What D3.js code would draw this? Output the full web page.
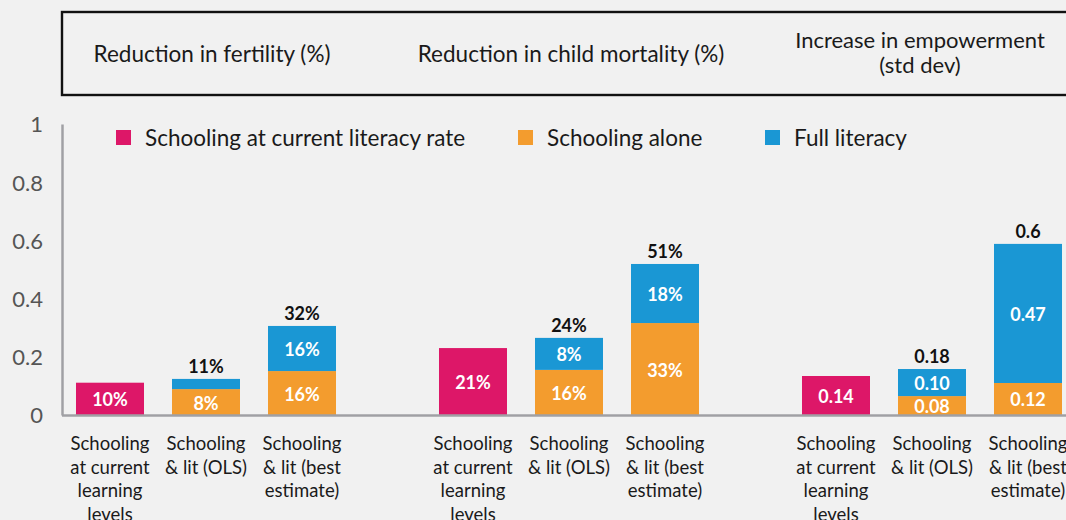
<!DOCTYPE html>
<html>
<head>
<meta charset="utf-8">
<script src="https://cdn.jsdelivr.net/npm/d3@7"></script>
<style>
  html, body { margin: 0; padding: 0; background: #f1f1f1; }
  svg { display: block; }
</style>
</head>
<body>
<svg id="chart" width="1066" height="520"></svg>
<script>
// ---- data ----
const groups = ["fertility", "mortality", "empowerment"];
const groupTitles = [
  ["Reduction in fertility (%)"],
  ["Reduction in child mortality (%)"],
  ["Increase in empowerment", "(std dev)"]
];
const categories = ["current", "ols", "best"];
const categoryLabels = [
  ["Schooling", "at current", "learning", "levels"],
  ["Schooling", "& lit (OLS)"],
  ["Schooling", "& lit (best", "estimate)"]
];
const seriesNames = ["Schooling at current literacy rate", "Schooling alone", "Full literacy"];
const seriesColors = ["#dd1768", "#f39c2e", "#1a97d4"];

// bar heights (per group: fertility, mortality, empowerment)
const currentLiteracy = [0.111, 0.230, 0.134];
const currentLiteracyLabels = ["10%", "21%", "0.14"];

const schoolingAloneOLS = [0.089, 0.155, 0.065];
const schoolingAloneOLSLabels = ["8%", "16%", "0.08"];
const fullLiteracyOLS = [0.035, 0.110, 0.093];
const fullLiteracyOLSLabels = ["", "8%", "0.10"];
const totalOLSLabels = ["11%", "24%", "0.18"];

const schoolingAloneBest = [0.151, 0.316, 0.110];
const schoolingAloneBestLabels = ["16%", "33%", "0.12"];
const fullLiteracyBest = [0.155, 0.203, 0.478];
const fullLiteracyBestLabels = ["16%", "18%", "0.47"];
const totalBestLabels = ["32%", "51%", "0.6"];

const yTicks = [0, 0.2, 0.4, 0.6, 0.8, 1];

// ---- build bar records ----
const bars = [];
groups.forEach((g, i) => {
  bars.push({ group: g, cat: "current", segs: [
    { s: 0, v: currentLiteracy[i], label: currentLiteracyLabels[i] }], total: "" });
  bars.push({ group: g, cat: "ols", segs: [
    { s: 1, v: schoolingAloneOLS[i], label: schoolingAloneOLSLabels[i] },
    { s: 2, v: fullLiteracyOLS[i], label: fullLiteracyOLSLabels[i] }], total: totalOLSLabels[i] });
  bars.push({ group: g, cat: "best", segs: [
    { s: 1, v: schoolingAloneBest[i], label: schoolingAloneBestLabels[i] },
    { s: 2, v: fullLiteracyBest[i], label: fullLiteracyBestLabels[i] }], total: totalBestLabels[i] });
});
bars.forEach(b => {
  let acc = 0;
  b.segs.forEach(sg => { sg.y0 = acc; acc += sg.v; sg.y1 = acc; });
  b.sum = acc;
});

// ---- layout ----
const W = 1066, H = 520;
const svg = d3.select("#chart");
svg.append("rect").attr("width", W).attr("height", H).attr("fill", "#f1f1f1");

const x0 = d3.scaleBand().domain(groups).range([62, 1076]).paddingInner(0.2066).paddingOuter(0);
const x1 = d3.scaleBand().domain(categories).range([0, x0.bandwidth()]).paddingInner(0.2917).paddingOuter(0.1458);
const y = d3.scaleLinear().domain([0, 1]).range([415, 124]);

const FONT = "Lato, 'Open Sans', sans-serif";

// header box
svg.append("rect")
  .attr("x", 62).attr("y", 12).attr("width", 1100).attr("height", 83)
  .attr("fill", "none").attr("stroke", "#111").attr("stroke-width", 2.4);

const headerDx = [6, 2, -12];
const headerY = [[62], [62], [48, 73]];
const headerSize = [22.5, 22.5, 22];
groupTitles.forEach((lines, i) => {
  const cx = x0(groups[i]) + x0.bandwidth() / 2 + headerDx[i];
  lines.forEach((ln, j) => {
    svg.append("text")
      .attr("x", cx).attr("y", headerY[i][j])
      .attr("text-anchor", "middle")
      .attr("font-family", FONT).attr("font-size", headerSize[i])
      .attr("fill", "#1a1a1a")
      .text(ln);
  });
});

// y axis
const yAxis = d3.axisLeft(y).tickValues(yTicks)
  .tickFormat(d => d === 0 ? "0" : d === 1 ? "1" : d3.format(".1f")(d))
  .tickSize(0).tickPadding(19);
const gy = svg.append("g").attr("transform", "translate(62,0)").call(yAxis);
gy.select(".domain").attr("stroke", "#a0a0a4").attr("stroke-width", 2.5);
gy.selectAll("text").attr("font-family", FONT).attr("font-size", 22)
  .attr("fill", "#555").attr("dy", "0.36em");

// bars
const barG = svg.append("g");
bars.forEach(b => {
  const bx = x0(b.group) + x1(b.cat);
  const bw = x1.bandwidth();
  b.segs.forEach(sg => {
    barG.append("rect")
      .attr("x", bx).attr("width", bw)
      .attr("y", y(sg.y1)).attr("height", y(sg.y0) - y(sg.y1))
      .attr("fill", seriesColors[sg.s]);
  });
  b.segs.forEach(sg => {
    if (!sg.label) return;
    barG.append("text")
      .attr("x", bx + bw / 2)
      .attr("y", (y(sg.y0) + y(sg.y1)) / 2 + 1)
      .attr("dy", "0.36em")
      .attr("text-anchor", "middle")
      .attr("font-family", FONT).attr("font-size", 18).attr("font-weight", 700)
      .attr("fill", "#fff")
      .text(sg.label);
  });
  if (b.total) {
    barG.append("text")
      .attr("x", bx + bw / 2)
      .attr("y", y(b.sum) - 6)
      .attr("text-anchor", "middle")
      .attr("font-family", FONT).attr("font-size", 18).attr("font-weight", 700)
      .attr("fill", "#111")
      .text(b.total);
  }
});

// x axis baseline
svg.append("line")
  .attr("x1", 62).attr("x2", W + 20)
  .attr("y1", y(0) + 0.5).attr("y2", y(0) + 0.5)
  .attr("stroke", "#a0a0a4").attr("stroke-width", 2.5);

// category labels
groups.forEach(g => {
  categories.forEach((c, ci) => {
    const cx = x0(g) + x1(c) + x1.bandwidth() / 2;
    categoryLabels[ci].forEach((ln, j) => {
      svg.append("text")
        .attr("x", cx).attr("y", 450 + j * 23.7)
        .attr("text-anchor", "middle")
        .attr("font-family", FONT).attr("font-size", 18.5)
        .attr("fill", "#1a1a1a")
        .text(ln);
    });
  });
});

// legend
const legendX = [116, 518, 765];
seriesNames.forEach((name, i) => {
  const lg = svg.append("g").attr("transform", `translate(${legendX[i]},130)`);
  lg.append("rect").attr("width", 15).attr("height", 15).attr("fill", seriesColors[i]);
  lg.append("text").attr("x", 29).attr("y", 16)
    .attr("font-family", FONT).attr("font-size", 22.5)
    .attr("fill", "#1a1a1a").text(name);
});
</script>
</body>
</html>
